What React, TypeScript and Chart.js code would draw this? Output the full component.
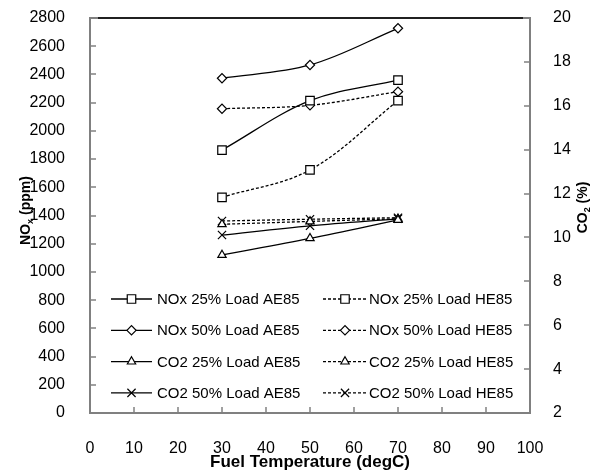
import { useEffect, useRef } from "react";
import { Chart, registerables } from "chart.js";
import { drawPoint } from "chart.js/helpers";

Chart.register(...registerables);

// ---- data ----
const temps = [30, 50, 70];
const noxAE25 = [1864, 2214, 2360];
const noxHE25 = [1529, 1723, 2214];
const noxAE50 = [2373, 2467, 2727];
const noxHE50 = [2157, 2181, 2278];
const co2AE25 = [9.2, 9.96, 10.8];
const co2HE25 = [10.6, 10.73, 10.85];
const co2AE50 = [10.11, 10.53, 10.85];
const co2HE50 = [10.75, 10.83, 10.9];

const seriesLabels = [
  "NOx 25% Load AE85",
  "NOx 25% Load HE85",
  "NOx 50% Load AE85",
  "NOx 50% Load HE85",
  "CO2 25% Load AE85",
  "CO2 25% Load HE85",
  "CO2 50% Load AE85",
  "CO2 50% Load HE85",
];
const xTitle = "Fuel Temperature (degC)";
const xMin = 0, xMax = 100, xStep = 10;
const noxMin = 0, noxMax = 2800, noxStep = 200;
const co2Min = 2, co2Max = 20, co2Step = 2;

const FONT = "'Liberation Sans', Arial, sans-serif";
const AXIS_GRAY = "rgb(128,128,128)";

const toPts = (arr: number[]) => temps.map((t, i) => ({ x: t, y: arr[i] }));

function makeDataset(label: string, arr: number[], axis: string, style: string, radius: number, dashed: boolean) {
  return {
    label,
    data: toPts(arr),
    yAxisID: axis,
    borderColor: "#000",
    borderWidth: 1.3,
    borderDash: dashed ? [3, 2] : [],
    tension: 0.35,
    pointStyle: style,
    pointRadius: radius,
    pointHoverRadius: radius,
    pointBackgroundColor: "#fff",
    pointBorderColor: "#000",
    pointBorderWidth: 1.2,
    fill: false,
  };
}

function drawRotatedSubTitle(ctx: CanvasRenderingContext2D, x: number, y: number, main: string, sub: string, rest: string, size: number) {
  ctx.save();
  ctx.translate(x, y);
  ctx.rotate(-Math.PI / 2);
  const mainFont = `bold ${size}px ${FONT}`;
  const subFont = `bold ${Math.round(size * 0.65)}px ${FONT}`;
  ctx.font = mainFont;
  const w1 = ctx.measureText(main).width;
  const w3 = ctx.measureText(rest).width;
  ctx.font = subFont;
  const w2 = ctx.measureText(sub).width;
  const total = w1 + w2 + w3;
  let cx = -total / 2;
  ctx.fillStyle = "#000";
  ctx.textBaseline = "middle";
  ctx.textAlign = "left";
  ctx.font = mainFont;
  ctx.fillText(main, cx, 0);
  cx += w1;
  ctx.font = subFont;
  ctx.fillText(sub, cx, size * 0.3);
  cx += w2;
  ctx.font = mainFont;
  ctx.fillText(rest, cx, 0);
  ctx.restore();
}

const decorPlugin = {
  id: "decor",
  afterDatasetsDraw(chart: any) {
    const { ctx, chartArea: a, scales } = chart;
    ctx.save();
    ctx.setLineDash([]);
    ctx.globalAlpha = 1;
    // inner ticks
    ctx.strokeStyle = AXIS_GRAY;
    ctx.lineWidth = 1.5;
    for (const t of scales.x.ticks) {
      const px = Math.round(scales.x.getPixelForValue(t.value));
      ctx.beginPath();
      ctx.moveTo(px, a.bottom);
      ctx.lineTo(px, a.bottom - 6);
      ctx.stroke();
    }
    for (const t of scales.y.ticks) {
      const py = Math.round(scales.y.getPixelForValue(t.value));
      ctx.beginPath();
      ctx.moveTo(a.left, py);
      ctx.lineTo(a.left + 6, py);
      ctx.stroke();
    }
    for (const t of scales.y1.ticks) {
      const py = Math.round(scales.y1.getPixelForValue(t.value));
      ctx.beginPath();
      ctx.moveTo(a.right, py);
      ctx.lineTo(a.right - 6, py);
      ctx.stroke();
    }
    // top frame edge (left/right/bottom are scale borders)
    ctx.lineWidth = 2;
    ctx.beginPath();
    ctx.moveTo(a.left - 1, a.top);
    ctx.lineTo(a.right + 1, a.top);
    ctx.stroke();
    // black top line
    ctx.strokeStyle = "#000";
    ctx.lineWidth = 1.5;
    ctx.beginPath();
    ctx.moveTo(a.left + 8, a.top);
    ctx.lineTo(a.right - 7, a.top);
    ctx.stroke();
    ctx.restore();
  },
  afterDraw(chart: any) {
    const { ctx, chartArea: a } = chart;
    ctx.save();
    // axis titles
    drawRotatedSubTitle(ctx, 26, (a.top + a.bottom) / 2 - 5, "NO", "x", " (ppm)", 14);
    drawRotatedSubTitle(ctx, 583, (a.top + a.bottom) / 2 - 8, "CO", "2", " (%)", 14);
    ctx.font = `bold 17px ${FONT}`;
    ctx.fillStyle = "#000";
    ctx.textAlign = "center";
    ctx.textBaseline = "middle";
    ctx.fillText(xTitle, (a.left + a.right) / 2, 462);

    // legend: two columns (AE left, HE right), four rows
    const rowY0 = a.bottom - 114;
    const rowGap = 31.3;
    const cols = [
      { x0: a.left + 21, x1: a.left + 62, tx: a.left + 67 },
      { x0: a.left + 233, x1: a.left + 277, tx: a.left + 279 },
    ];
    ctx.font = `15px ${FONT}`;
    ctx.textAlign = "left";
    ctx.textBaseline = "middle";
    chart.data.datasets.forEach((ds: any, i: number) => {
      const col = cols[i % 2];
      const y = rowY0 + Math.floor(i / 2) * rowGap;
      ctx.strokeStyle = "#000";
      ctx.lineWidth = ds.borderWidth;
      ctx.setLineDash(ds.borderDash);
      ctx.beginPath();
      ctx.moveTo(col.x0, y);
      ctx.lineTo(col.x1, y);
      ctx.stroke();
      ctx.setLineDash([]);
      ctx.fillStyle = "#fff";
      ctx.strokeStyle = "#000";
      ctx.lineWidth = ds.pointBorderWidth;
      drawPoint(ctx, { pointStyle: ds.pointStyle, radius: ds.pointRadius, rotation: 0, borderWidth: ds.pointBorderWidth }, (col.x0 + col.x1) / 2, y);
      ctx.fillStyle = "#000";
      ctx.fillText(ds.label, col.tx, y + 1);
    });
    ctx.restore();
  },
};

const plainTick = (v: any) => String(v);

export default function App() {
  const ref = useRef<HTMLCanvasElement>(null);
  useEffect(() => {
    if (!ref.current) return;
    const datasets = [
      makeDataset(seriesLabels[0], noxAE25, "y", "rect", 6, false),
      makeDataset(seriesLabels[1], noxHE25, "y", "rect", 6, true),
      makeDataset(seriesLabels[2], noxAE50, "y", "rectRot", 4.6, false),
      makeDataset(seriesLabels[3], noxHE50, "y", "rectRot", 4.6, true),
      makeDataset(seriesLabels[4], co2AE25, "y1", "triangle", 4.8, false),
      makeDataset(seriesLabels[5], co2HE25, "y1", "triangle", 4.8, true),
      makeDataset(seriesLabels[6], co2AE50, "y1", "crossRot", 5.8, false),
      makeDataset(seriesLabels[7], co2HE50, "y1", "crossRot", 5.8, true),
    ];
    const tickFont = { family: FONT, size: 16 };
    const hiddenGrid = (len: number) => ({
      display: true,
      drawOnChartArea: false,
      drawTicks: true,
      tickLength: len,
      tickColor: "rgba(0,0,0,0)",
    });
    const axisBorder = { display: true, color: AXIS_GRAY, width: 2 };
    const chart = new Chart(ref.current, {
      type: "line",
      data: { datasets },
      plugins: [decorPlugin],
      options: {
        animation: false,
        responsive: true,
        maintainAspectRatio: false,
        layout: { padding: { top: 18, left: 0, right: 0, bottom: 0 } },
        plugins: { legend: { display: false }, tooltip: { enabled: false } },
        scales: {
          x: {
            type: "linear",
            min: xMin,
            max: xMax,
            ticks: { stepSize: xStep, color: "#000", font: tickFont, padding: 0, maxRotation: 0, callback: plainTick },
            grid: hiddenGrid(26),
            border: axisBorder,
            afterFit: (s: any) => { s.height = 59; },
          },
          y: {
            type: "linear",
            position: "left",
            min: noxMin,
            max: noxMax,
            ticks: { stepSize: noxStep, color: "#000", font: tickFont, padding: 0, callback: plainTick },
            grid: hiddenGrid(25),
            border: axisBorder,
            afterFit: (s: any) => { s.width = 90; },
          },
          y1: {
            type: "linear",
            position: "right",
            min: co2Min,
            max: co2Max,
            ticks: { stepSize: co2Step, color: "#000", font: tickFont, padding: 0, callback: plainTick },
            grid: hiddenGrid(23),
            border: axisBorder,
            afterFit: (s: any) => { s.width = 75; },
          },
        },
      },
    } as any);
    return () => chart.destroy();
  }, []);
  return (
    <div style={{ position: "fixed", left: 0, top: 0, width: 605, height: 472, background: "#fff" }}>
      <canvas ref={ref} />
    </div>
  );
}
